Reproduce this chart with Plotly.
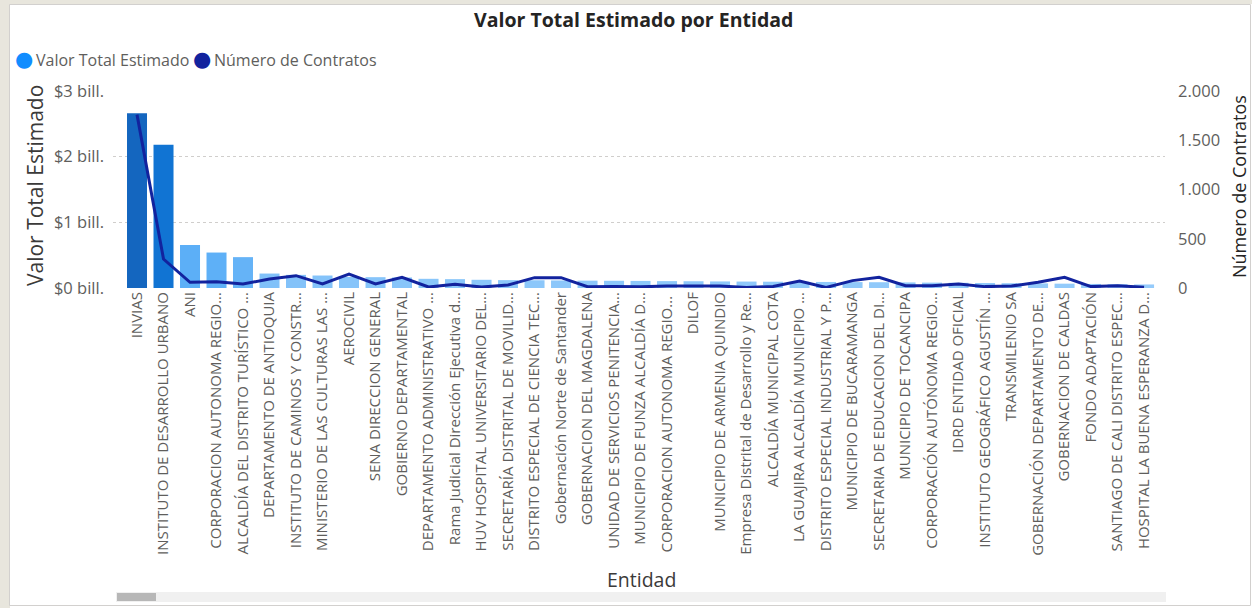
import plotly.graph_objects as go

entidades = [
    "INVIAS", "INSTITUTO DE DESARROLLO URBANO", "ANI", "CORPORACION AUTONOMA REGIO...",
    "ALCALDÍA DEL DISTRITO TURÍSTICO ...", "DEPARTAMENTO DE ANTIOQUIA", "INSTITUTO DE CAMINOS Y CONSTR...",
    "MINISTERIO DE LAS CULTURAS LAS ...", "AEROCIVIL", "SENA DIRECCION GENERAL", "GOBIERNO DEPARTAMENTAL",
    "DEPARTAMENTO ADMINISTRATIVO ...", "Rama Judicial Dirección Ejecutiva d...", "HUV HOSPITAL UNIVERSITARIO DEL...",
    "SECRETARÍA DISTRITAL DE MOVILID...", "DISTRITO ESPECIAL DE CIENCIA TEC...", "Gobernación Norte de Santander",
    "GOBERNACION DEL MAGDALENA", "UNIDAD DE SERVICIOS PENITENCIA...", "MUNICIPIO DE FUNZA ALCALDÍA D...",
    "CORPORACION AUTONOMA REGIO... ", "DILOF", "MUNICIPIO DE ARMENIA QUINDIO", "Empresa Distrital de Desarrollo y Re...",
    "ALCALDÍA MUNICIPAL COTA", "LA GUAJIRA ALCALDÍA MUNICIPIO ...", "DISTRITO ESPECIAL INDUSTRIAL Y P...",
    "MUNICIPIO DE BUCARAMANGA", "SECRETARIA DE EDUCACION DEL DI...", "MUNICIPIO DE TOCANCIPA",
    "CORPORACIÓN AUTÓNOMA REGIO...", "IDRD ENTIDAD OFICIAL", "INSTITUTO GEOGRÁFICO AGUSTÍN ...",
    "TRANSMILENIO SA", "GOBERNACIÓN DEPARTAMENTO DE...", "GOBERNACION DE CALDAS", "FONDO ADAPTACIÓN",
    "SANTIAGO DE CALI DISTRITO ESPEC...", "HOSPITAL LA BUENA ESPERANZA D...",
]

valor_bill = [2.66, 2.18, 0.655, 0.54, 0.47, 0.22, 0.20, 0.19, 0.17, 0.165, 0.16, 0.14, 0.135,
              0.125, 0.12, 0.118, 0.115, 0.112, 0.11, 0.108, 0.105, 0.103, 0.10, 0.098, 0.096,
              0.094, 0.092, 0.09, 0.088, 0.085, 0.082, 0.079, 0.076, 0.073, 0.07, 0.066, 0.062,
              0.058, 0.054]
valor_total = [v * 1e12 for v in valor_bill]

num_contratos = [1760, 294, 58, 64, 41, 91, 125, 41, 142, 41, 108, 10, 37, 10, 30, 105, 105, 13,
                 15, 12, 20, 20, 20, 5, 15, 71, 5, 75, 108, 23, 23, 41, 14, 20, 58, 108, 14, 23, 7]

y_left_vals = [0, 1e12, 2e12, 3e12]
y_left_text = ["$0 bill.", "$1 bill.", "$2 bill.", "$3 bill."]
y_right_vals = [0, 500, 1000, 1500, 2000]
y_right_text = ["0", "500", "1.000", "1.500", "2.000"]

FONT = "Open Sans"
GRAY = "#605E5C"
DARK = "#252423"
C_BAR = "#118DFF"
C_LINE = "#12239E"

# plot area in pixels
X0, X1, Y0, Y1 = 113, 1165, 91, 288
W, H = 1252, 608

def px(x):
    return (x - X0) / (X1 - X0)

def py(y):
    return (Y1 - y) / (Y1 - Y0)

xs = list(range(len(entidades)))

fig = go.Figure()
fig.add_trace(go.Bar(
    x=xs, y=valor_total, name="Valor Total Estimado",
    marker=dict(
        color=valor_total,
        colorscale=[[0, "#9ccffb"], [0.05, "#8ac6fa"], [0.2, "#5eb0f7"], [0.3, "#5aadf6"],
                    [0.8, "#1175d5"], [1, "#1466bf"]],
        cmin=0, cmax=max(valor_total), line=dict(width=0)),
    showlegend=False,
))
fig.add_trace(go.Scatter(
    x=xs, y=num_contratos, name="Número de Contratos", yaxis="y2",
    mode="lines", line=dict(color=C_LINE, width=3), showlegend=False,
))

fig.update_layout(
    width=W, height=H,
    margin=dict(l=X0, r=W - X1, t=Y0, b=H - Y1, pad=0),
    paper_bgcolor="white", plot_bgcolor="white",
    bargap=0.245,
    font=dict(family=FONT, color=GRAY),
    xaxis=dict(
        tickmode="array", tickvals=xs, ticktext=entidades, tickangle=-90,
        range=[-0.906, len(entidades) - 1 + 0.79],
        tickfont=dict(size=15, color=GRAY, family=FONT),
        showgrid=False, zeroline=False, showline=False, ticks="", ticklen=0,
    ),
    yaxis=dict(
        range=[0, 3e12], tickvals=y_left_vals, ticktext=y_left_text,
        tickfont=dict(size=16.5, color=GRAY, family=FONT),
        showgrid=True, gridcolor="#d0cecc", griddash="dot", gridwidth=1,
        zeroline=False, showline=False, ticks="", ticklabelstandoff=8,
    ),
    yaxis2=dict(
        range=[0, 2000], tickvals=y_right_vals, ticktext=y_right_text,
        overlaying="y", side="right",
        tickfont=dict(size=16.5, color=GRAY, family=FONT),
        showgrid=False, zeroline=False, showline=False, ticks="", ticklabelstandoff=12,
    ),
)

ann = []
ann.append(dict(text="<b>Valor Total Estimado por Entidad</b>", x=px(633), y=py(20),
                xref="paper", yref="paper", showarrow=False,
                font=dict(size=19.5, color=DARK, family=FONT), xanchor="center", yanchor="middle"))
# legend items
for cx, tx, label, col in [(24, 34, "Valor Total Estimado", C_BAR), (202, 212, "Número de Contratos", C_LINE)]:
    ann.append(dict(text="●", x=px(cx), y=py(59), xref="paper", yref="paper", showarrow=False,
                    font=dict(size=21, color=col, family="DejaVu Sans"), xanchor="center", yanchor="middle"))
    ann.append(dict(text=label, x=px(tx), y=py(60), xref="paper", yref="paper", showarrow=False,
                    font=dict(size=16, color=GRAY, family=FONT), xanchor="left", yanchor="middle"))
ann.append(dict(text="Valor Total Estimado", x=px(35), y=py(186), textangle=-90,
                xref="paper", yref="paper", showarrow=False,
                font=dict(size=21, color="#3b3a39", family=FONT), xanchor="center", yanchor="middle"))
ann.append(dict(text="Número de Contratos", x=px(1239), y=py(187), textangle=-90,
                xref="paper", yref="paper", showarrow=False,
                font=dict(size=18, color=DARK, family=FONT), xanchor="center", yanchor="middle"))
ann.append(dict(text="Entidad", x=px(641), y=py(579),
                xref="paper", yref="paper", showarrow=False,
                font=dict(size=19.5, color="#3b3a39", family=FONT), xanchor="center", yanchor="middle"))
fig.update_layout(annotations=ann)

shapes = []
# outer frame
shapes.append(dict(type="rect", xref="paper", yref="paper", x0=px(0), x1=px(10), y0=py(H), y1=py(0),
                   fillcolor="#e8e6dd", line=dict(width=0), layer="below"))
shapes.append(dict(type="rect", xref="paper", yref="paper", x0=px(0), x1=px(W), y0=py(4), y1=py(0),
                   fillcolor="#e8e6dd", line=dict(width=0), layer="below"))
shapes.append(dict(type="rect", xref="paper", yref="paper", x0=px(9.5), x1=px(1250.5), y0=py(605.5), y1=py(4.5),
                   fillcolor="rgba(0,0,0,0)", line=dict(color="#d2d0ce", width=1), layer="below"))
# scrollbar
shapes.append(dict(type="rect", xref="paper", yref="paper", x0=px(116), x1=px(1166), y0=py(602), y1=py(592),
                   fillcolor="#f0f0f0", line=dict(width=0)))
shapes.append(dict(type="rect", xref="paper", yref="paper", x0=px(117), x1=px(156), y0=py(601), y1=py(593),
                   fillcolor="#b7b7b7", line=dict(width=0)))
fig.update_layout(shapes=shapes)

fig.write_html("out.html", config={"displayModeBar": False},
               post_script="document.body.style.margin='0';document.body.style.overflow='hidden';")
